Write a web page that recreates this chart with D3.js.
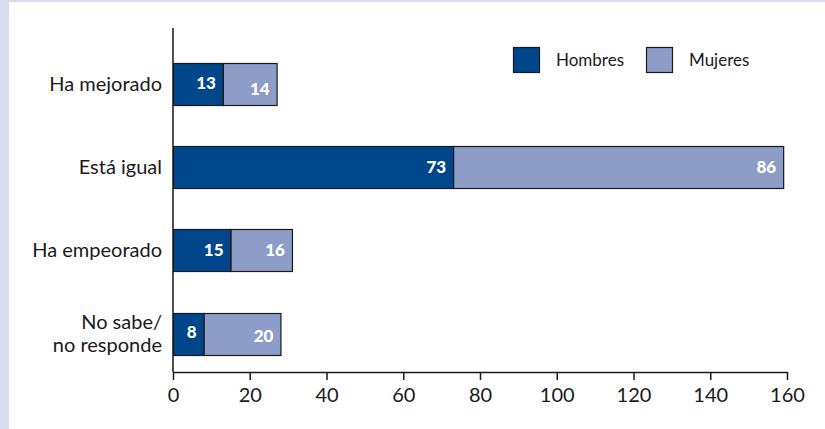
<!DOCTYPE html>
<html><head><meta charset="utf-8">
<script src="https://cdn.jsdelivr.net/npm/d3@7"></script>
<style>
html,body{margin:0;padding:0;background:#d9dcee;}
svg{display:block;}
</style></head>
<body>
<script>
const categories = ["Ha mejorado", "Está igual", "Ha empeorado", "No sabe/\nno responde"];
const hombres = [13, 73, 15, 8];
const mujeres = [14, 86, 16, 20];
const seriesNames = ["Hombres", "Mujeres"];
const xTicks = [0, 20, 40, 60, 80, 100, 120, 140, 160];

const W = 825, H = 429;
const colors = ["#00468b", "#8e9dc8"];
const font = "Lato, 'Open Sans', sans-serif";

const svg = d3.select("body").append("svg").attr("width", W).attr("height", H);
svg.append("rect").attr("width", W).attr("height", H).attr("fill", "#d9dcee");
svg.append("rect").attr("x", 9).attr("y", 2).attr("width", W - 9).attr("height", H - 2).attr("fill", "#fff");

const x = d3.scaleLinear().domain([0, 160]).range([173, 787]);
const y = d3.scaleBand().domain(categories).range([42, 375.3]).paddingInner(0.5).paddingOuter(0.25);

const data = categories.map((c, i) => ({cat: c, vals: [hombres[i], mujeres[i]]}));
const stack = data.map(d => {
  let acc = 0;
  return d.vals.map((v, k) => { const s = {cat: d.cat, k, v, x0: acc, x1: acc + v}; acc += v; return s; });
}).flat();

const g = svg.append("g");
g.selectAll("rect.bar").data(stack).join("rect")
  .attr("class", "bar")
  .attr("x", d => x(d.x0) + 0.5)
  .attr("y", d => Math.round(y(d.cat)) + 0.5)
  .attr("width", d => x(d.x1) - x(d.x0))
  .attr("height", Math.round(y.bandwidth()))
  .attr("fill", d => colors[d.k])
  .attr("stroke", "#1a1a1a").attr("stroke-width", 1.2);

g.selectAll("text.val").data(stack).join("text")
  .attr("class", "val")
  .attr("x", d => x(d.x1) - 7)
  .attr("y", d => y(d.cat) + y.bandwidth() / 2 + (d.cat === categories[0] ? (d.k === 0 ? -1 : 5) : (d.cat === categories[3] ? (d.k === 0 ? -2 : 2) : 0)))
  .attr("dy", "0.36em")
  .attr("text-anchor", "end")
  .attr("fill", "#fff")
  .attr("font-family", font).attr("font-weight", "900").attr("font-size", 17)
  .text(d => d.v);

// y axis line
svg.append("line").attr("x1", 173).attr("x2", 173).attr("y1", 28).attr("y2", 372)
  .attr("stroke", "#1a1a1a").attr("stroke-width", 1.5);

// category labels
categories.forEach(c => {
  const lines = c.split("\n");
  const t = svg.append("text")
    .attr("x", 162).attr("text-anchor", "end")
    .attr("font-family", font).attr("font-size", 20).attr("fill", "#1a1a1a");
  const cy = y(c) + y.bandwidth() / 2;
  const lh = 23;
  lines.forEach((l, i) => {
    t.append("tspan").attr("x", 162)
      .attr("y", cy + (i - (lines.length - 1) / 2) * lh)
      .attr("dy", "0.35em").text(l);
  });
});

// x axis
const xAxis = d3.axisBottom(x).tickValues(xTicks).tickSize(8).tickPadding(8).tickSizeOuter(0);
const ax = svg.append("g").attr("transform", "translate(0,372)").call(xAxis);
ax.select(".domain").attr("stroke", "#1a1a1a").attr("stroke-width", 1.5);
ax.selectAll(".tick line").attr("stroke", "#1a1a1a").attr("stroke-width", 1.5);
ax.selectAll(".tick text").attr("font-family", font).attr("font-size", 20).attr("fill", "#1a1a1a");

// legend
const lx = [513, 646];
seriesNames.forEach((s, i) => {
  svg.append("rect").attr("x", lx[i] + 0.5).attr("y", 47.5).attr("width", 26).attr("height", 25)
    .attr("fill", colors[i]).attr("stroke", "#1a1a1a").attr("stroke-width", 1.2);
  svg.append("text").attr("x", lx[i] + 43).attr("y", 60).attr("dy", "0.35em")
    .attr("font-family", font).attr("font-size", 17).attr("fill", "#1a1a1a").text(s);
});
</script>
</body></html>
